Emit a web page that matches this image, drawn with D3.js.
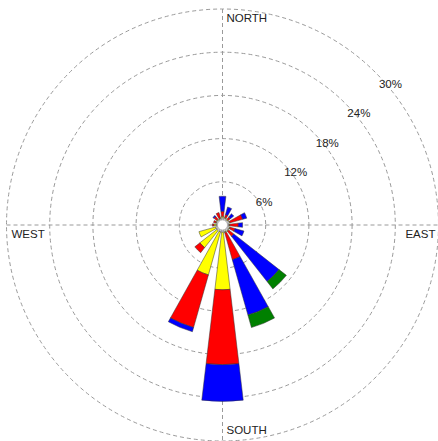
<!DOCTYPE html>
<html>
<head>
<meta charset="utf-8">
<script src="https://cdn.jsdelivr.net/npm/d3@7"></script>
<style>
  html, body { margin: 0; padding: 0; background: #fff; }
  svg { display: block; font-family: "Liberation Sans", Arial, sans-serif; }
</style>
</head>
<body>
<svg id="rose" width="438" height="441"></svg>
<script>
// Wind directions (16-point compass, clockwise from north)
const directions = ["N", "NNE", "NE", "ENE", "E", "ESE", "SE", "SSE",
                    "S", "SSW", "SW", "WSW", "W", "WNW", "NW", "NNW"];
const directionAngles = [0, 22.5, 45, 67.5, 90, 112.5, 135, 157.5,
                         180, 202.5, 225, 247.5, 270, 292.5, 315, 337.5];

// Frequency (%) of each speed class per direction
const speedClass1 = [1.0, 1.0, 0.9, 1.0, 0.9, 1.0, 1.0, 1.0, 1.0, 1.0, 1.0, 1.0, 0.9, 0.9, 0.9, 0.9];
const speedClass2 = [0.2, 0.1, 0.1, 0.1, 0.1, 0.1, 0.1, 0.1, 8.0, 6.2, 3.0, 2.4, 0.3, 0.1, 0.1, 0.1];
const speedClass3 = [0.7, 0.4, 0.4, 1.8, 1.2, 0.7, 0.9, 3.9, 10.4, 7.6, 0.9, 0.0, 0.2, 0.3, 0.5, 0.8];
const speedClass4 = [2.1, 1.1, 0.6, 0.6, 0.6, 1.3, 8.0, 8.0, 5.1, 0.6, 0.0, 0.0, 0.0, 0.0, 0.2, 0.0];
const speedClass5 = [0.0, 0.0, 0.0, 0.0, 0.0, 0.0, 1.3, 1.8, 0.0, 0.0, 0.0, 0.0, 0.0, 0.0, 0.0, 0.0];

const classColors = ["#ffffff", "#ffff00", "#ff0000", "#0000ff", "#008000"];

// Grid circles and their labels
const gridValues = [6, 12, 18, 24, 30];
const gridLabels = ["6%", "12%", "18%", "24%", "30%"];
const compassLabels = ["NORTH", "EAST", "SOUTH", "WEST"];

const svg = d3.select("#rose");
const cx = 222.5, cy = 225;
const rMax = 216;
const r = d3.scaleLinear().domain([0, 30]).range([0, rMax]);
const toRad = d => d * Math.PI / 180;
const barHalfWidth = 22.5 * 0.6 / 2;

const g = svg.append("g").attr("transform", `translate(${cx},${cy})`);

// Dashed grid
const gridStyle = sel => sel.attr("fill", "none").attr("stroke", "#9a9a9a")
  .attr("stroke-width", 1).attr("stroke-dasharray", "4,3");

g.selectAll("circle.grid").data(gridValues).join("circle")
  .attr("class", "grid").attr("r", d => r(d)).call(gridStyle);

g.append("line").attr("x1", -r(30)).attr("x2", r(30)).attr("y1", 0).attr("y2", 0).call(gridStyle);
g.append("line").attr("x1", 0).attr("x2", 0).attr("y1", -r(30)).attr("y2", r(30)).call(gridStyle);

// Stacked sectors
const classes = [speedClass1, speedClass2, speedClass3, speedClass4, speedClass5];
const arc = d3.arc();
const segments = [];
directions.forEach((dir, i) => {
  let acc = 0;
  classes.forEach((cls, k) => {
    const v = cls[i];
    if (v > 0) {
      segments.push({ dir, angle: directionAngles[i], inner: acc, outer: acc + v, color: classColors[k] });
    }
    acc += v;
  });
});

g.selectAll("path.sector").data(segments).join("path")
  .attr("class", "sector")
  .attr("d", d => arc({
    innerRadius: r(d.inner),
    outerRadius: r(d.outer),
    startAngle: toRad(d.angle - barHalfWidth),
    endAngle: toRad(d.angle + barHalfWidth)
  }))
  .attr("fill", d => d.color)
  .attr("stroke", "#333")
  .attr("stroke-width", 0.5);

// Centre hole
g.append("circle").attr("r", 5).attr("fill", "#fff").attr("stroke", "#aaa").attr("stroke-width", 0.6);

// Percentage labels
const labelAngle = toRad(47);
g.selectAll("text.pct").data(gridValues).join("text")
  .attr("class", "pct")
  .attr("x", d => r(d) * Math.sin(labelAngle) + 10)
  .attr("y", d => -r(d) * Math.cos(labelAngle) + 7)
  .attr("text-anchor", "middle")
  .attr("dominant-baseline", "middle")
  .attr("font-size", "11.5px")
  .attr("fill", "#222")
  .text((d, i) => gridLabels[i]);

// Compass labels
const compassPos = [
  { x: 4, y: -206, anchor: "start" },
  { x: 213, y: 10, anchor: "end" },
  { x: 4, y: 206, anchor: "start" },
  { x: -211, y: 10, anchor: "start" }
];
g.selectAll("text.compass").data(compassLabels).join("text")
  .attr("class", "compass")
  .attr("x", (d, i) => compassPos[i].x)
  .attr("y", (d, i) => compassPos[i].y)
  .attr("text-anchor", (d, i) => compassPos[i].anchor)
  .attr("dominant-baseline", "middle")
  .attr("font-size", "11.5px")
  .attr("fill", "#222")
  .text(d => d);
</script>
</body>
</html>
